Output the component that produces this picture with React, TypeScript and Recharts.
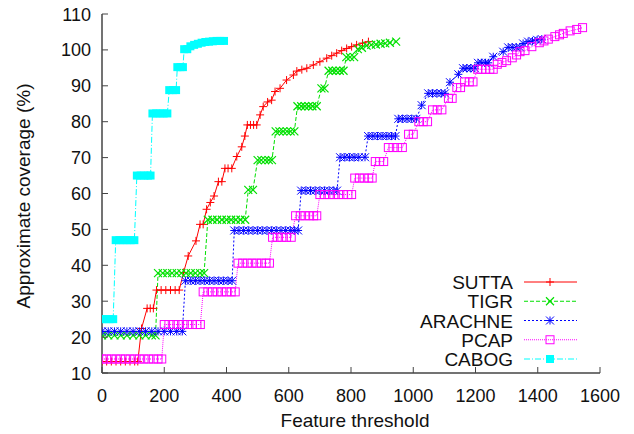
import React from 'react';
import { LineChart, Line, XAxis, YAxis, Legend, Label } from 'recharts';

type Pt = [number, number];

const xTicks = [0, 200, 400, 600, 800, 1000, 1200, 1400, 1600];
const yTicks = [10, 20, 30, 40, 50, 60, 70, 80, 90, 100, 110];

// [feature threshold, approximate coverage %]
const sutta: Pt[] = [
  [0, 13.2], [15, 13.2], [30, 13.2], [45, 13.2], [60, 13.2], [75, 13.2], [90, 13.2], [105, 13.2], [115, 13.2],
  [127, 22.4], [145, 28], [155, 28], [165, 28], [175, 33.1], [190, 33.1], [205, 33.1], [220, 33.1], [235, 33.1],
  [248, 33.1], [262, 38], [277, 42.6], [302, 46.8], [315, 51.4], [325, 51.4], [336, 55.6], [348, 57.5],
  [360, 59.3], [374, 63.3], [385, 63.3], [395, 67], [405, 67], [417, 67], [433, 70.3], [449, 73], [459, 76],
  [467, 79.1], [477, 79.1], [487, 79.1], [497, 79.1], [508, 81.9], [518, 84.2], [532, 85.5], [545, 86],
  [556, 88.4], [572, 89.3], [593, 91.6], [615, 93], [626, 94.1], [642, 94.5], [658, 94.9], [679, 95.8],
  [700, 96.7], [722, 97.7], [738, 98.4], [754, 99.1], [770, 99.8], [786, 100.4], [802, 100.9], [818, 101.4],
  [837, 101.9], [856, 102.3],
];

const tigr: Pt[] = [
  [0, 20.5], [20, 20.5], [40, 20.5], [60, 20.5], [80, 20.5], [100, 20.5], [120, 20.5], [140, 20.5], [160, 20.5],
  [172, 20.5], [180, 37.8], [195, 37.8], [210, 37.8], [225, 37.8], [240, 37.8], [255, 37.8], [270, 37.8],
  [285, 37.8], [300, 37.8], [315, 37.8], [328, 37.8], [340, 52.7], [355, 52.7], [370, 52.7], [385, 52.7],
  [400, 52.7], [415, 52.7], [430, 52.7], [445, 52.7], [460, 52.7], [470, 61], [485, 61], [500, 69.3],
  [512, 69.3], [524, 69.3], [536, 69.3], [546, 69.3], [558, 77.3], [570, 77.3], [582, 77.3], [594, 77.3],
  [606, 77.3], [618, 77.3], [628, 84.3], [640, 84.3], [652, 84.3], [664, 84.3], [676, 84.3], [690, 84.3],
  [705, 89.3], [715, 89.3], [728, 94.2], [740, 94.2], [752, 94.2], [764, 94.2], [776, 94.2], [785, 98],
  [797, 98], [810, 98], [822, 100.2], [835, 100.6], [850, 101.2], [865, 101.4], [880, 101.5], [895, 101.7],
  [910, 101.8], [925, 102], [945, 102.3],
];

const arachne: Pt[] = [
  [0, 21.6], [20, 21.6], [40, 21.6], [60, 21.6], [80, 21.6], [100, 21.6], [120, 21.6], [140, 21.6], [160, 21.6],
  [180, 21.6], [200, 21.6], [220, 21.6], [240, 21.6], [258, 21.6], [268, 35.7], [285, 35.7], [300, 35.7],
  [315, 35.7], [330, 35.7], [345, 35.7], [360, 35.7], [375, 35.7], [390, 35.7], [405, 35.7], [418, 35.7],
  [425, 49.7], [440, 49.7], [455, 49.7], [470, 49.7], [485, 49.7], [500, 49.7], [515, 49.7], [530, 49.7],
  [545, 49.7], [560, 49.7], [575, 49.7], [590, 49.7], [605, 49.7], [618, 49.7], [630, 49.7], [640, 60.8],
  [655, 60.8], [670, 60.8], [685, 60.8], [700, 60.8], [715, 60.8], [730, 60.8], [745, 60.8], [755, 60.8],
  [765, 70.1], [780, 70.1], [795, 70.1], [810, 70.1], [825, 70.1], [845, 70.1], [855, 76], [870, 76],
  [885, 76], [900, 76], [915, 76], [930, 76], [943, 76], [952, 80.8], [965, 80.8], [980, 80.8], [995, 80.8],
  [1010, 80.8], [1027, 84.6], [1048, 87.9], [1062, 87.9], [1076, 87.9], [1090, 87.9], [1102, 87.9],
  [1118, 91], [1145, 93.2], [1160, 94.9], [1172, 94.9], [1185, 94.9], [1198, 94.9], [1208, 96.4],
  [1220, 96.4], [1232, 96.4], [1241, 96.4], [1257, 98.1], [1289, 99.5], [1305, 100.7], [1318, 100.7],
  [1331, 100.7], [1343, 100.7], [1353, 101.8], [1369, 102.3], [1383, 102.5], [1398, 102.8], [1413, 103],
];

const pcap: Pt[] = [
  [0, 13.9], [15, 13.9], [30, 13.9], [45, 13.9], [60, 13.9], [75, 13.9], [90, 13.9], [105, 13.9], [120, 13.9],
  [135, 13.9], [150, 13.9], [165, 13.9], [180, 13.9], [192, 13.9], [200, 23.5], [215, 23.5], [230, 23.5],
  [245, 23.5], [260, 23.5], [275, 23.5], [290, 23.5], [305, 23.5], [316, 23.5], [325, 32.6], [340, 32.6],
  [355, 32.6], [370, 32.6], [385, 32.6], [400, 32.6], [415, 32.6], [428, 32.6], [437, 40.6], [452, 40.6],
  [467, 40.6], [482, 40.6], [497, 40.6], [512, 40.6], [527, 40.6], [538, 40.6], [548, 47.8], [563, 47.8],
  [578, 47.8], [593, 47.8], [608, 47.8], [622, 53.8], [637, 53.8], [652, 53.8], [667, 53.8], [680, 53.8],
  [690, 53.8], [700, 59.7], [715, 59.7], [730, 59.7], [745, 59.7], [760, 59.7], [775, 59.7], [790, 59.7],
  [802, 59.7], [812, 64.3], [827, 64.3], [842, 64.3], [857, 64.3], [868, 64.3], [878, 68.9], [892, 68.9],
  [905, 68.9], [920, 72.8], [935, 72.8], [950, 72.8], [965, 72.8], [985, 76.5], [1000, 76.5], [1018, 80],
  [1032, 80], [1046, 80], [1062, 83.3], [1077, 83.3], [1092, 83.3], [1113, 86.5], [1125, 86.5], [1140, 89.5],
  [1152, 89.5], [1165, 91.1], [1180, 91.1], [1192, 91.1], [1207, 94.6], [1220, 94.6], [1233, 94.6],
  [1246, 94.6], [1257, 94.6], [1270, 96], [1285, 96.5], [1300, 97], [1318, 97.8], [1332, 98.6], [1343, 99.5],
  [1359, 99.8], [1381, 100.9], [1405, 102], [1420, 102.5], [1434, 103], [1455, 103.7], [1470, 104.2],
  [1482, 104.6], [1504, 105.3], [1525, 105.7], [1544, 106.2],
];

const cabog: Pt[] = [
  [0, 25], [12, 25], [24, 25], [36, 25], [44, 47], [56, 47], [68, 47], [80, 47], [92, 47], [104, 47],
  [112, 65], [124, 65], [136, 65], [148, 65], [156, 65], [162, 82.3], [174, 82.3], [186, 82.3], [198, 82.3],
  [210, 82.3], [216, 88.8], [228, 88.8], [238, 88.8], [242, 95.2], [252, 95.2], [260, 95.2], [264, 100.2],
  [274, 100.2], [284, 101], [296, 101.4], [308, 101.7], [320, 102], [332, 102.2], [344, 102.3], [356, 102.4],
  [368, 102.5], [380, 102.5], [392, 102.5],
];

type MarkerKind = 'plus' | 'cross' | 'star' | 'square' | 'filled';

const series: { name: string; color: string; dash?: string; marker: MarkerKind; points: Pt[] }[] = [
  { name: 'SUTTA', color: '#ff0000', marker: 'plus', points: sutta },
  { name: 'TIGR', color: '#00e000', dash: '4 2', marker: 'cross', points: tigr },
  { name: 'ARACHNE', color: '#0000ff', dash: '2 2', marker: 'star', points: arachne },
  { name: 'PCAP', color: '#ff00ff', dash: '1 1', marker: 'square', points: pcap },
  { name: 'CABOG', color: '#00ffff', dash: '6 2 1 2', marker: 'filled', points: cabog },
];

const FONT = '"Liberation Sans", Arial, sans-serif';
const AXIS = '#444';

function Marker({ cx, cy, kind, color }: { cx: number; cy: number; kind: MarkerKind; color: string }) {
  const r = 4;
  if (cx == null || cy == null) return null;
  switch (kind) {
    case 'plus':
      return (
        <path d={`M${cx - r},${cy}H${cx + r}M${cx},${cy - r}V${cy + r}`} stroke={color} strokeWidth={1} fill="none" />
      );
    case 'cross':
      return (
        <path
          d={`M${cx - r},${cy - r}L${cx + r},${cy + r}M${cx - r},${cy + r}L${cx + r},${cy - r}`}
          stroke={color}
          strokeWidth={1.2}
          fill="none"
        />
      );
    case 'star':
      return (
        <path
          d={`M${cx - r},${cy}H${cx + r}M${cx},${cy - r}V${cy + r}M${cx - r},${cy - r}L${cx + r},${cy + r}M${cx - r},${cy + r}L${cx + r},${cy - r}`}
          stroke={color}
          strokeWidth={1}
          fill="none"
        />
      );
    case 'square':
      return <rect x={cx - r} y={cy - r} width={2 * r} height={2 * r} stroke={color} strokeWidth={1} fill="none" />;
    default:
      return <rect x={cx - r} y={cy - r} width={2 * r} height={2 * r} fill={color} />;
  }
}

const BottomTick = (p: any) => (
  <g>
    <line x1={p.x} y1={p.y} x2={p.x} y2={p.y - 6} stroke={AXIS} />
    <text x={p.x} y={p.y + 29} textAnchor="middle" fontSize={18} fontFamily={FONT} fill="#111">
      {p.payload.value}
    </text>
  </g>
);

const TopTick = (p: any) => <line x1={p.x} y1={p.y} x2={p.x} y2={p.y + 6} stroke={AXIS} />;

const LeftTick = (p: any) => (
  <g>
    <line x1={p.x} y1={p.y} x2={p.x + 6} y2={p.y} stroke={AXIS} />
    <text x={p.x - 11} y={p.y + 6.5} textAnchor="end" fontSize={18} fontFamily={FONT} fill="#111">
      {p.payload.value}
    </text>
  </g>
);

const RightTick = (p: any) => <line x1={p.x} y1={p.y} x2={p.x - 6} y2={p.y} stroke={AXIS} />;

const LegendBox = () => (
  <svg width={634} height={434} style={{ display: 'block' }}>
    {series.map((s, i) => {
      const y = 282 + i * 19.25;
      return (
        <g key={s.name}>
          <text x={513} y={y + 7} textAnchor="end" fontSize={19} fontFamily={FONT} fill="#111">
            {s.name}
          </text>
          <line x1={524} y1={y} x2={577} y2={y} stroke={s.color} strokeDasharray={s.dash} />
          <Marker cx={550} cy={y} kind={s.marker} color={s.color} />
        </g>
      );
    })}
  </svg>
);

export default function App() {
  return (
    <div>
      <style>{'body{margin:0}'}</style>
      <LineChart width={634} height={434} margin={{ top: 14, right: 34, bottom: 0, left: 0 }}>
        <XAxis
          dataKey="x"
          type="number"
          domain={[0, 1600]}
          ticks={xTicks}
          height={61}
          tickSize={0}
          tickMargin={0}
          tickLine={false}
          tick={BottomTick}
          axisLine={{ stroke: AXIS, strokeWidth: 1.5 }}
          allowDataOverflow
        >
          <Label
            content={() => (
              <text x={355} y={427} textAnchor="middle" fontSize={19} fontFamily={FONT} fill="#111">
                Feature threshold
              </text>
            )}
          />
        </XAxis>
        <XAxis
          xAxisId="top"
          orientation="top"
          type="number"
          domain={[0, 1600]}
          ticks={xTicks}
          height={0}
          tickSize={0}
          tickMargin={0}
          tickLine={false}
          tick={TopTick}
          axisLine={{ stroke: AXIS, strokeWidth: 1.5 }}
          allowDataOverflow
        />
        <YAxis
          type="number"
          domain={[10, 110]}
          ticks={yTicks}
          width={102}
          tickSize={0}
          tickMargin={0}
          tickLine={false}
          tick={LeftTick}
          axisLine={{ stroke: AXIS, strokeWidth: 1.5 }}
          allowDataOverflow
        >
          <Label
            content={() => (
              <text
                x={30}
                y={196}
                transform="rotate(-90 30 196)"
                textAnchor="middle"
                fontSize={19}
                fontFamily={FONT}
                fill="#111"
              >
                Approximate coverage (%)
              </text>
            )}
          />
        </YAxis>
        <YAxis
          yAxisId="right"
          orientation="right"
          type="number"
          domain={[10, 110]}
          ticks={yTicks}
          width={0}
          tickSize={0}
          tickMargin={0}
          tickLine={false}
          tick={RightTick}
          axisLine={{ stroke: AXIS, strokeWidth: 1.5 }}
          allowDataOverflow
        />
        {series.map((s) => (
          <Line
            key={s.name}
            name={s.name}
            data={s.points.map(([x, y]) => ({ x, y }))}
            dataKey="y"
            type="linear"
            stroke={s.color}
            strokeWidth={1}
            strokeDasharray={s.dash}
            dot={(p: any) => <Marker key={`${s.name}-${p.index}`} cx={p.cx} cy={p.cy} kind={s.marker} color={s.color} />}
            activeDot={false}
            isAnimationActive={false}
          />
        ))}
        <Legend
          layout="vertical"
          align="center"
          verticalAlign="middle"
          content={LegendBox}
          wrapperStyle={{ left: 0, top: 0, width: 634, height: 434, pointerEvents: 'none' }}
        />
      </LineChart>
    </div>
  );
}
